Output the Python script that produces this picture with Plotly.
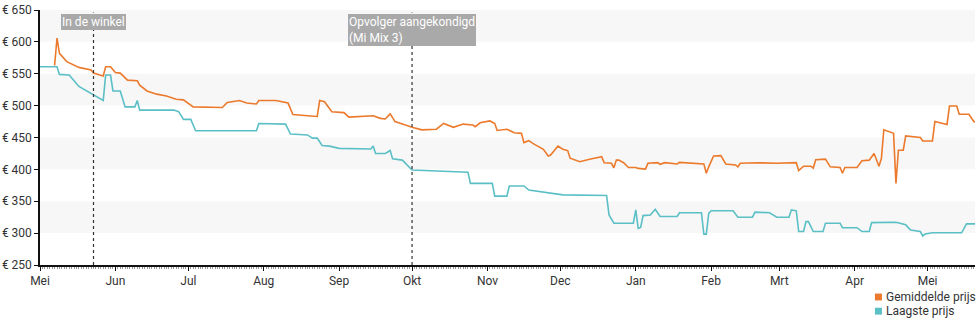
import pandas as pd
import plotly.graph_objects as go

START = pd.Timestamp("2018-05-01")

# Gemiddelde prijs: day offset from 1 May 2018, price in euro
avg_days = [6, 7, 8, 11, 16, 21, 22, 26, 27, 29, 31, 33, 36, 40, 41, 44, 48, 52, 56, 59,
            63, 75, 77, 82, 85, 89, 90, 97, 102, 104, 110, 114, 115, 117, 120, 123, 125, 127,
            137, 140, 142, 144, 146, 153, 157, 163, 166, 170, 174, 178, 179, 181, 185, 187,
            188, 192, 195, 198, 199, 201, 203, 207, 209, 210, 213, 215, 217, 218, 222, 226,
            231, 232, 235, 236, 237, 238, 240, 242, 245, 246, 249, 250, 254, 255, 257, 262,
            263, 273, 274, 275, 277, 280, 282, 286, 287, 288, 295, 303, 308, 311, 312, 314,
            317, 318, 319, 323, 325, 329, 330, 331, 336, 338, 341, 343, 345, 346, 347, 349,
            351, 352, 353, 355, 356, 362, 363, 367, 368, 373, 374, 377, 378, 382, 384, 385]
avg_price = [563, 606, 582, 569, 560, 556, 551, 546.5, 561, 561, 552, 551, 540, 539, 532, 523,
             518, 515, 510, 509, 498, 497, 505, 508, 504, 502.5, 508, 508, 504, 486, 484, 483,
             508, 506, 490.5, 490, 489, 482, 484, 480, 479, 487, 475, 466, 462, 463, 472, 466,
             471, 469.5, 467, 473, 476, 472, 461, 463, 457.5, 456.5, 442, 445, 440, 431.5, 421,
             422.5, 436.5, 431.5, 429.5, 417.5, 412, 416, 420, 410.5, 409.5, 402.5, 414.5,
             414.5, 410.5, 403, 403, 401.5, 400.5, 409.5, 410.5, 408, 410.5, 408.5, 411, 408.5,
             394, 404, 421, 421.5, 408.5, 407, 404, 409.5, 410.5, 409.5, 409.5, 410.5, 398, 405,
             405, 402, 415, 416, 404, 403, 394, 403, 403, 413.5, 414.5, 425, 405, 417, 462, 459,
             456.5, 378, 430, 430, 452.5, 450, 444.5, 444.5, 475, 470.5, 499.5, 499.5, 486.5,
             486.5, 475, 474]

# Laagste prijs
low_days = [0, 7, 8, 12, 16, 21, 25, 26, 27, 29, 30, 33, 35, 39, 40, 41, 55, 57, 59, 62, 64,
            89, 90, 101, 103, 110, 112, 114, 116, 119, 123, 136, 137, 138, 142, 144, 145, 149,
            153, 164, 176, 177, 186, 187, 192, 193, 199, 201, 215, 233, 234, 236, 244, 245,
            246, 247, 248, 251, 253, 255, 262, 263, 272, 273, 274, 275, 276, 285, 287, 293,
            294, 300, 303, 308, 309, 311, 312, 314, 315, 316, 318, 322, 323, 329, 330, 336,
            338, 341, 342, 352, 356, 358, 362, 363, 364, 367, 379, 381, 385]
low_price = [561, 561, 549, 548, 530, 519, 510, 508, 548, 548, 523, 523, 498, 498, 508, 493,
             493, 490.5, 478.5, 478.5, 460.5, 460.5, 472, 471, 455.5, 454, 449, 449, 437.5,
             436.5, 433, 432, 436.5, 425, 425, 429.5, 416.5, 414.5, 399, 397.5, 395.5, 378, 378,
             358, 358, 374, 374, 367.5, 360, 359, 328.5, 315.5, 315.5, 336.5, 307.5, 309, 327.5,
             328.5, 337.5, 326, 326, 332, 332, 298.5, 298.5, 331, 335, 335, 325, 325, 333, 332,
             325, 325, 336.5, 335, 302.5, 302.5, 318, 318, 302.5, 302.5, 315.5, 315.5, 308.5,
             308.5, 302.5, 302.5, 316.5, 317, 313, 305, 302.5, 295.5, 298.5, 300.5, 300.5,
             314.5, 314.5]

# Axis labels and shaded value bands
month_starts = ["2018-05-01", "2018-06-01", "2018-07-01", "2018-08-01", "2018-09-01",
                "2018-10-01", "2018-11-01", "2018-12-01", "2019-01-01", "2019-02-01",
                "2019-03-01", "2019-04-01", "2019-05-01"]
month_labels = ["Mei", "Jun", "Jul", "Aug", "Sep", "Okt", "Nov", "Dec", "Jan", "Feb",
                "Mrt", "Apr", "Mei"]
price_ticks = [250, 300, 350, 400, 450, 500, 550, 600, 650]
price_labels = ["€ 250", "€ 300", "€ 350", "€ 400", "€ 450", "€ 500", "€ 550", "€ 600", "€ 650"]
bands = [(300, 350), (400, 450), (500, 550), (600, 650)]

# Events marked with a dotted line
event_dates = ["2018-05-23", "2018-10-01"]
event_labels = ["In de winkel", "Opvolger aangekondigd<br>(Mi Mix 3)"]

series_names = ["Gemiddelde prijs", "Laagste prijs"]

ORANGE = "#EC7A2C"
TEAL = "#5BBFC6"
FONT = "Roboto, 'Open Sans', sans-serif"
TEXT = "#333333"


def to_dates(days):
    return [START + pd.Timedelta(days=d) for d in days]


fig = go.Figure()
fig.add_trace(go.Scatter(x=to_dates(avg_days), y=avg_price, mode="lines",
                         line=dict(color=ORANGE, width=1.6), name=series_names[0]))
fig.add_trace(go.Scatter(x=to_dates(low_days), y=low_price, mode="lines",
                         line=dict(color=TEAL, width=1.6), name=series_names[1]))

shapes = []
for lo, hi in bands:
    shapes.append(dict(type="rect", xref="paper", x0=0, x1=1, yref="y", y0=lo, y1=hi,
                       fillcolor="#F7F7F7", line=dict(width=0), layer="below"))
for d in event_dates:
    shapes.append(dict(type="line", xref="x", x0=d, x1=d, yref="paper", y0=0, y1=0.99,
                       line=dict(color="#333333", width=1.2, dash="dot"), layer="above"))

annotations = []
for d, label in zip(event_dates, event_labels):
    annotations.append(dict(x=d, xref="x", y=0.985, yref="paper", text=label,
                            showarrow=False, xanchor="center", yanchor="top", align="left",
                            bgcolor="#A9A9A9", borderpad=1, borderwidth=0,
                            font=dict(family=FONT, size=12, color="#FFFFFF")))

# Key below the plot, bottom right: square swatch followed by the series name
key_x = 0.9025
key_rows = [-0.1255, -0.181]
for name, colour, ky in zip(series_names, [ORANGE, TEAL], key_rows):
    shapes.append(dict(type="rect", xref="paper", yref="paper",
                       x0=key_x - 0.0095, x1=key_x - 0.002,
                       y0=ky - 0.0135, y1=ky + 0.0135,
                       fillcolor=colour, line=dict(width=0)))
    annotations.append(dict(x=key_x, xref="paper", y=ky, yref="paper", text=name,
                            showarrow=False, xanchor="left", yanchor="middle",
                            font=dict(family=FONT, size=12, color=TEXT)))

end_date = START + pd.Timedelta(days=384.5)

fig.update_layout(
    width=980, height=325,
    margin=dict(l=40, r=5, t=10, b=60, autoexpand=False),
    paper_bgcolor="#FFFFFF", plot_bgcolor="#FFFFFF",
    font=dict(family=FONT, size=12, color=TEXT),
    showlegend=False,
    shapes=shapes,
    annotations=annotations,
    xaxis=dict(range=[START, end_date], tickvals=month_starts, ticktext=month_labels,
               showgrid=False, zeroline=False, showline=True, linecolor="#111111",
               linewidth=1.5, ticks="outside", ticklen=4, tickcolor="#111111",
               automargin=False,
               tickfont=dict(family=FONT, size=12, color=TEXT),
               minor=dict(dtick=86400000, ticks="outside", ticklen=2,
                          tickcolor="#999999", showgrid=False)),
    yaxis=dict(range=[250, 650], tickvals=price_ticks, ticktext=price_labels,
               showgrid=False, zeroline=False, showline=True, linecolor="#111111",
               linewidth=1.5, ticks="outside", ticklen=4, tickcolor="#111111",
               automargin=False, ticklabelstandoff=0,
               tickfont=dict(family=FONT, size=12, color=TEXT)),
)

fig.write_html("out.html")
